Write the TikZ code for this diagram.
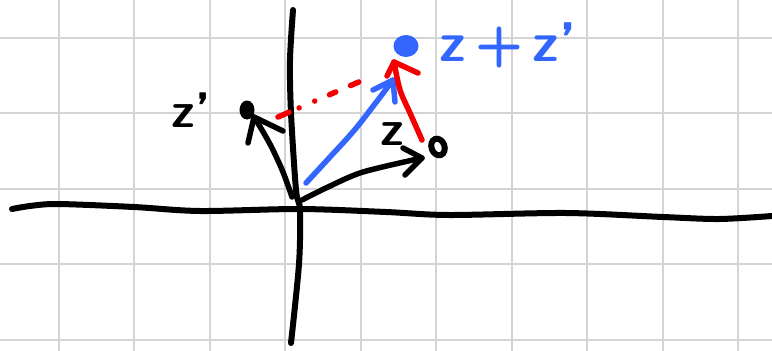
\documentclass[tikz,border=0pt]{standalone}
\usetikzlibrary{calc,shapes.geometric}
\definecolor{gridgray}{RGB}{212,212,212}
\definecolor{penblue}{RGB}{51,102,255}
\definecolor{penred}{RGB}{245,0,0}
\begin{document}
\begin{tikzpicture}[x=1pt,y=-1pt,
  gridline/.style={draw=gridgray,line width=2pt},
  ink/.style={line width=5.5pt,line cap=round,line join=round},
  lab/.style={inner sep=0pt,font=\fontsize{50}{50}\selectfont\sffamily\bfseries}]
\useasboundingbox (0,0) rectangle (772,351);
\fill[white] (0,0) rectangle (772,351);
% grid
\foreach \i in {0,...,9} \draw[gridline] ({58.5+75.5*\i},0) -- ({58.5+75.5*\i},351);
\foreach \j in {0,...,4} \draw[gridline] (0,{37.5+75.5*\j}) -- (772,{37.5+75.5*\j});
% named points
\coordinate (O1) at (292,197);
\coordinate (O2) at (302,200);
\coordinate (O3) at (306,183);
\coordinate (zptip) at (254,117);
\coordinate (ztip) at (422,158);
\coordinate (btip) at (393,80);
\coordinate (rstart) at (422,140);
\coordinate (rtip) at (394,62);
\coordinate (dstart) at (278,117);
\coordinate (dend) at (368,78);
% axes
\draw[ink,line width=6pt] plot[smooth] coordinates {(12,209) (30,206) (58,204) (134,207) (200,211) (300,209) (386,212) (449,215) (566,213) (663,217) (719,219) (772,216)};
\draw[ink,line width=6pt] plot[smooth] coordinates {(293,10) (290,60) (291,113) (296,190) (300,210) (299,264) (291,343)};
% points
\node[ellipse,fill=black,minimum width=15pt,minimum height=19pt,inner sep=0pt] (zp) at (247,110) {};
\node[ellipse,draw=black,line width=6pt,fill=white,minimum width=13pt,minimum height=17pt,inner sep=0pt,rotate=20] (z) at (438,147) {};
\node[ellipse,fill=penblue,minimum width=25pt,minimum height=22pt,inner sep=0pt] (sum) at (406,46) {};
% z' arrow
\draw[ink] plot[smooth] coordinates {(O1) (283,172) (272,148) (262,130) (zptip)};
\draw[ink] (248,143) -- (zptip) -- (283,131);
% z arrow
\draw[ink] plot[smooth] coordinates {(O2) (328,187) (363,172) (ztip)};
\draw[ink] (403,148) -- (ztip) -- (405,175);
% blue arrow
\draw[ink,draw=penblue] plot[smooth] coordinates {(O3) (330,157) (357,127) (btip)};
\draw[ink,draw=penblue] (373,90) -- (btip) -- (395,102);
% red arrow
\draw[ink,draw=penred] plot[smooth] coordinates {(rstart) (410,113) (400,90) (rtip)};
\draw[ink,draw=penred] (387,76) -- (rtip) -- (418,73);
% red dotted
\draw[ink,draw=penred,dash pattern=on 12pt off 11pt on 0pt off 17pt on 0pt off 16pt on 7pt off 16pt on 9pt] (dstart) -- (dend);
% labels
\node[lab,anchor=base west] (lzp) at (171,127) {z'};
\node[lab,anchor=base west] (lz) at (380,145) {z};
\node[lab,anchor=base west,text=penblue,font=\fontsize{56}{56}\selectfont\sffamily\bfseries] (lsum) at (439,61) {z\,+\,z'};
\end{tikzpicture}
\end{document}
